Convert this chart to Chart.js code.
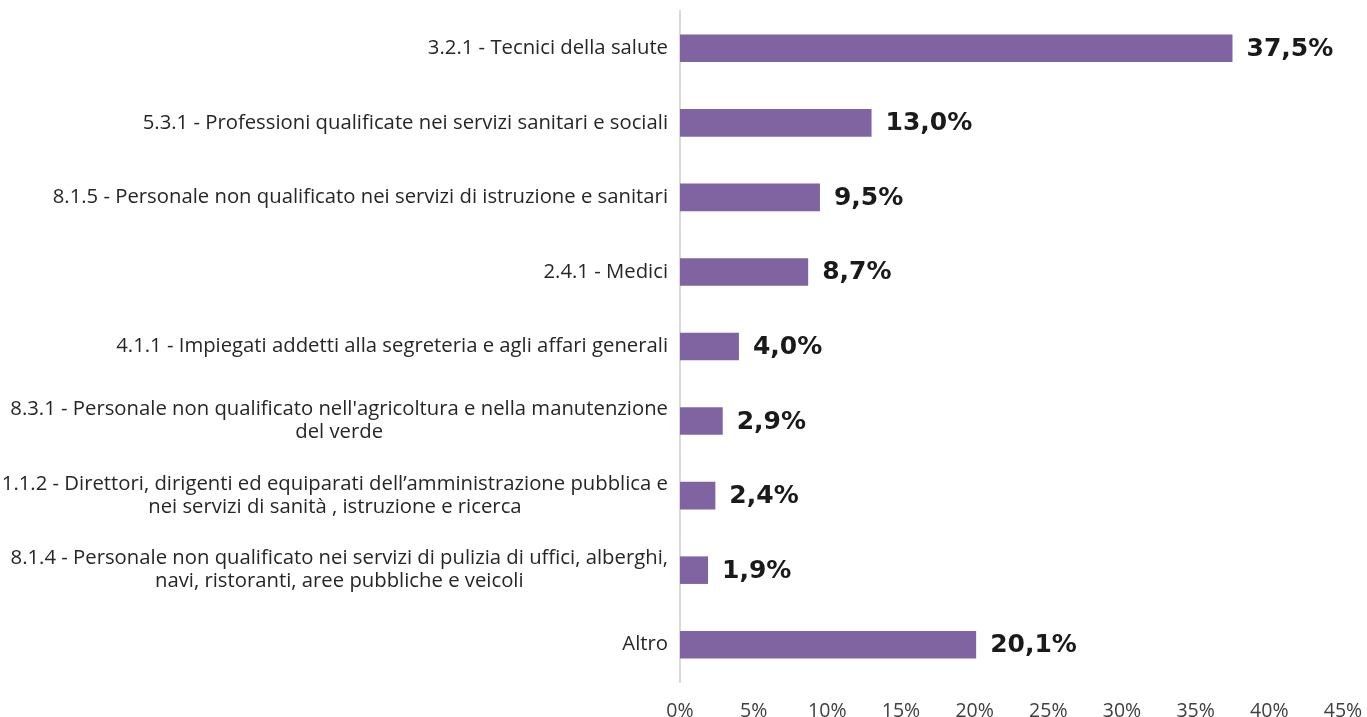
<!DOCTYPE html>
<html>
<head>
<meta charset="utf-8">
<script src="https://cdn.jsdelivr.net/npm/chart.js@4/dist/chart.umd.min.js"></script>
<style>
html,body{margin:0;padding:0;background:#fff;}
#wrap{position:relative;width:1367px;height:717px;}
</style>
</head>
<body>
<div id="wrap"><canvas id="c" width="1367" height="717"></canvas></div>
<script>
const categories = [
  "3.2.1 - Tecnici della salute",
  "5.3.1 - Professioni qualificate nei servizi sanitari e sociali",
  "8.1.5 - Personale non qualificato nei servizi di istruzione e sanitari",
  "2.4.1 - Medici",
  "4.1.1 - Impiegati addetti alla segreteria e agli affari generali",
  ["8.3.1 - Personale non qualificato nell'agricoltura e nella manutenzione", "del verde"],
  ["1.1.2 - Direttori, dirigenti ed equiparati dell\u2019amministrazione pubblica e", "nei servizi di sanit\u00e0 , istruzione e ricerca"],
  ["8.1.4 - Personale non qualificato nei servizi di pulizia di uffici, alberghi,", "navi, ristoranti, aree pubbliche e veicoli"],
  "Altro"
];
const values = [37.5, 13.0, 9.5, 8.7, 4.0, 2.9, 2.4, 1.9, 20.1];
const xTicks = [0, 5, 10, 15, 20, 25, 30, 35, 40, 45];

const LABEL_FONT = '20.3px "Open Sans", "Noto Sans", sans-serif';
const VALUE_FONT = 'bold 25px "DejaVu Sans", sans-serif';

const catLabelPlugin = {
  id: 'catLabels',
  afterDraw(chart) {
    const ctx = chart.ctx;
    const yScale = chart.scales.y;
    const rightX = chart.chartArea.left - 12;
    ctx.save();
    ctx.font = LABEL_FONT;
    ctx.fillStyle = '#262626';
    ctx.textBaseline = 'middle';
    ctx.textAlign = 'center';
    const lh = 23;
    categories.forEach((lab, i) => {
      const lines = Array.isArray(lab) ? lab : [lab];
      const widest = Math.max(...lines.map(l => ctx.measureText(l).width));
      const cx = rightX - widest / 2;
      const cy = yScale.getPixelForValue(i);
      const y0 = cy - (lines.length - 1) * lh / 2;
      lines.forEach((l, j) => ctx.fillText(l, cx, y0 + j * lh));
    });
    ctx.restore();
  }
};

const valueLabelPlugin = {
  id: 'valLabels',
  afterDatasetsDraw(chart) {
    const ctx = chart.ctx;
    const meta = chart.getDatasetMeta(0);
    ctx.save();
    ctx.font = VALUE_FONT;
    ctx.fillStyle = '#1a1a1a';
    ctx.textBaseline = 'middle';
    ctx.textAlign = 'left';
    meta.data.forEach((bar, i) => {
      const txt = values[i].toFixed(1).replace('.', ',') + '%';
      ctx.fillText(txt, bar.x + 14, bar.y + 1);
    });
    ctx.restore();
  }
};

new Chart(document.getElementById('c'), {
  type: 'bar',
  data: {
    labels: categories,
    datasets: [{
      data: values,
      backgroundColor: '#8064A2',
      borderColor: '#8064A2',
      borderWidth: 0,
      barPercentage: 0.37,
      categoryPercentage: 1.0
    }]
  },
  options: {
    indexAxis: 'y',
    responsive: false,
    animation: false,
    devicePixelRatio: 1,
    layout: { padding: { left: 0, right: 24, top: 11, bottom: 0 } },
    plugins: { legend: { display: false }, tooltip: { enabled: false } },
    scales: {
      x: {
        min: 0, max: 45,
        afterBuildTicks: (s) => { s.ticks = xTicks.map(v => ({ value: v })); },
        grid: { display: false, drawTicks: true, tickLength: 18 },
        border: { display: false },
        ticks: {
          padding: 0,
          color: '#404040',
          font: { family: '"Open Sans", "Noto Sans", sans-serif', size: 19.5 },
          callback: (v) => v + '%',
          maxRotation: 0
        },
        afterFit: (s) => { s.height = 35; }
      },
      y: {
        grid: { display: false, drawTicks: false },
        border: { display: true, color: '#d9d9d9', width: 2 },
        ticks: { display: false },
        afterFit: (s) => { s.width = 680; }
      }
    }
  },
  plugins: [catLabelPlugin, valueLabelPlugin]
});
</script>
</body>
</html>
